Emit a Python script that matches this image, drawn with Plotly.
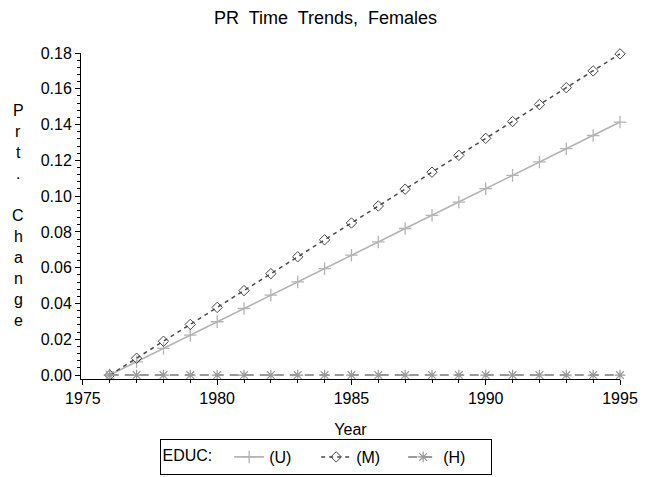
import plotly.graph_objects as go

years = list(range(1976, 1996))
educ_u = [0, 0.0074, 0.0149, 0.0223, 0.0298, 0.0372, 0.0447, 0.0521, 0.0595, 0.0670,
          0.0744, 0.0819, 0.0893, 0.0967, 0.1042, 0.1116, 0.1191, 0.1265, 0.1339, 0.1414]
educ_m = [0, 0.0094, 0.0189, 0.0283, 0.0378, 0.0472, 0.0567, 0.0661, 0.0756, 0.0850,
          0.0945, 0.1039, 0.1134, 0.1228, 0.1323, 0.1417, 0.1512, 0.1606, 0.1700, 0.1795]
educ_h = [0.0] * 20

title_text = "PR\u00a0 Time\u00a0 Trends,\u00a0 Females"
ylabel = "Prt. Change"
xlabel = "Year"

FONT = "Liberation Sans, Arial, sans-serif"

fig = go.Figure()
fig.add_trace(go.Scatter(
    x=years, y=educ_u, name="(U)", mode="lines+markers",
    line=dict(color="#b4b4b4", width=1.6),
    marker=dict(symbol="cross-thin-open", size=9, line=dict(color="#b4b4b4", width=1.3)),
    cliponaxis=False))
fig.add_trace(go.Scatter(
    x=years, y=educ_m, name="(M)", mode="lines+markers",
    line=dict(color="#4a4a4a", width=1.5, dash="4px,4px"),
    marker=dict(symbol="diamond-open", size=8, color="#4a4a4a", line=dict(color="#4a4a4a", width=1)),
    cliponaxis=False))
fig.add_trace(go.Scatter(
    x=years, y=educ_h, name="(H)", mode="lines+markers",
    line=dict(color="#9a9a9a", width=2, dash="9px,6px"),
    marker=dict(symbol="asterisk-open", size=9, line=dict(color="#9a9a9a", width=1.2)),
    cliponaxis=False))

L, R, T, B = 81, 31, 53, 98
W, H = 651, 477
ph = H - T - B
pw = W - L - R

annotations = []
# stacked vertical y-axis label
for i, ch in enumerate(ylabel):
    if ch == " ":
        continue
    py = 110 + 21 * i
    annotations.append(dict(
        text=ch, x=(18 - L) / pw, y=(H - B - py) / ph, xref="paper", yref="paper",
        showarrow=False, xanchor="center", yanchor="middle",
        font=dict(family=FONT, size=16, color="black")))

fig.update_layout(
    width=W, height=H,
    margin=dict(l=L, r=R, t=T, b=B, autoexpand=False),
    paper_bgcolor="white", plot_bgcolor="white",
    font=dict(family=FONT, size=16, color="black"),
    title=dict(text=title_text, x=0.5, xanchor="center", xref="container",
               y=1 - 18 / H, yanchor="middle", yref="container",
               font=dict(family=FONT, size=18, color="black")),
    xaxis=dict(
        range=[1974.93, 1995], tickmode="linear", tick0=1975, dtick=5,
        showgrid=False, zeroline=False, showline=True, linecolor="black", linewidth=1,
        ticks="outside", ticklen=5, tickcolor="black", tickwidth=1, ticklabelstandoff=0,
        minor=dict(dtick=1, tick0=1975, ticks="outside", ticklen=3, tickcolor="black", showgrid=False),
        title=dict(text=xlabel, standoff=17, font=dict(size=16)),
        tickfont=dict(size=16)),
    yaxis=dict(
        range=[-0.0022, 0.18], tickmode="linear", tick0=0, dtick=0.02, tickformat=".2f",
        showgrid=False, zeroline=False, showline=True, linecolor="black", linewidth=1,
        ticks="outside", ticklen=5, tickcolor="black", tickwidth=1,
        minor=dict(dtick=0.004, tick0=0, ticks="outside", ticklen=3, tickcolor="black", showgrid=False),
        tickfont=dict(size=16)),
    legend=dict(
        orientation="h", xref="container", yref="container",
        x=0.5, xanchor="center", y=(477 - 457) / H, yanchor="middle",
        bordercolor="black", borderwidth=1, bgcolor="white",
        title=dict(text="EDUC:\u00a0\u00a0", side="left", font=dict(size=16)),
        font=dict(size=16), itemwidth=30, entrywidth=42, entrywidthmode="pixels"),
    annotations=annotations,
    showlegend=True,
)

fig.write_html("out.html")
